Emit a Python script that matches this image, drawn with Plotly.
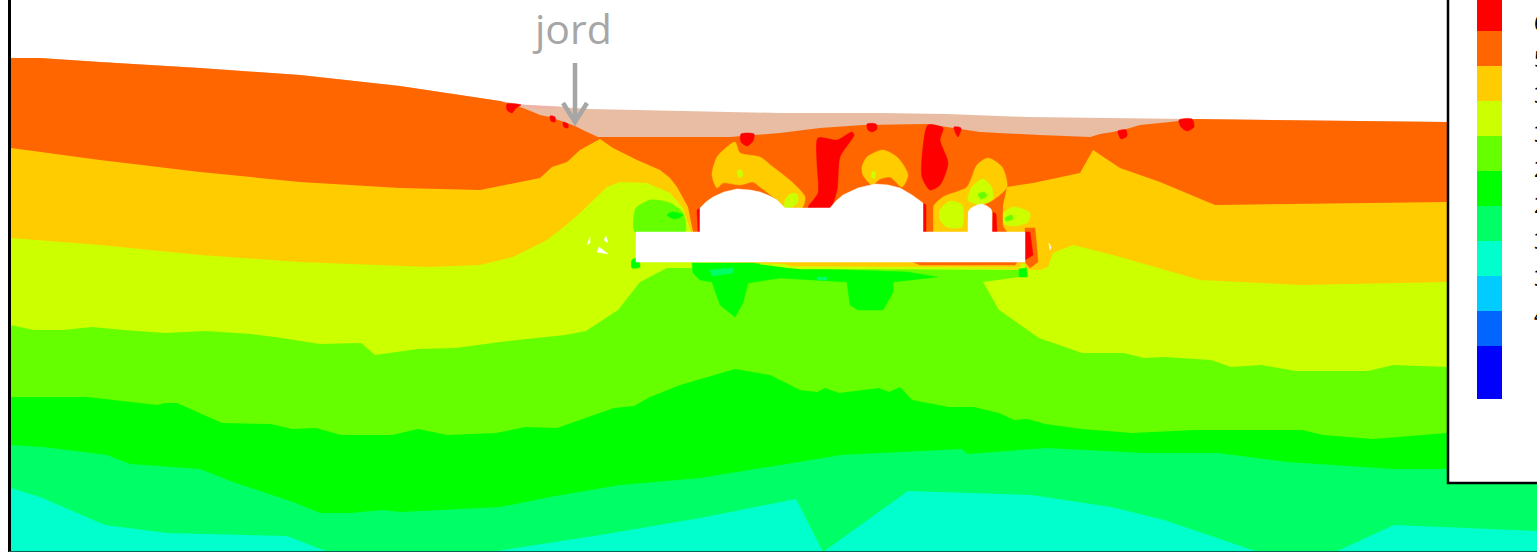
import plotly.graph_objects as go

W, H = 1537, 552
RED, ORANGE, YELLOW, LIME, GREEN, PURE, SPRING, CYAN = (
    "#ff0000", "#ff6600", "#ffcc00", "#ccff00", "#66ff00", "#00ff00", "#00ff66", "#00ffcc")
SKY, BLUE, DEEP, TAN, PINK, GREY = "#00ccff", "#0066ff", "#0000ff", "#e9bda3", "#efb3a6", "#a6a6a6"

# Band boundaries, as (x, y) pixels, left to right
surface = [(11,58),(40,58),(100,62),(200,68),(300,75),(400,86),(500,101),(525,105),(590,109),(687,111),(780,113),(880,113),(947,114),(1027,117),(1120,118),(1200,119),(1447,122),(1447,130)]
orange_top = [(11,58),(40,58),(100,62),(200,68),(300,75),(400,86),(500,101),(523,108),(533,112),(540,115),(550,117),(563,122),(575,126),(587,132),(598,137),(730,137),(780,133),(820,128),(863,125),(927,124),(980,132),(1040,135),(1090,137),(1100,134),(1113,132),(1130,128),(1140,125),(1170,122),(1195,119),(1447,122)]
yellow_top = [(11,148),(100,160),(200,172),(300,182),(400,188),(480,190),(540,178),(552,167),(567,162),(580,150),(600,139),(613,148),(637,160),(660,170),(670,178),(677,187),(688,207),(693,232),(700,262),(1030,262),(1002,225),(1003,205),(1007,187),(1033,183),(1080,173),(1093,150),(1120,168),(1160,182),(1215,205),(1300,204),(1447,202)]
lime_top = [(11,238),(100,245),(200,255),(300,262),(430,267),(480,265),(513,257),(547,240),(565,226),(580,213),(607,187),(620,182),(647,183),(670,193),(683,208),(691,232),(700,262),(1030,270),(1040,270),(1048,267),(1053,253),(1073,245),(1113,255),(1200,280),(1300,285),(1447,282)]
green_top = [(10,325),(34,330),(63,330),(92,327),(124,330),(165,333),(206,331),(251,334),(275,337),(320,344),(361,343),(375,355),(418,349),(455,348),(508,341),(565,335),(586,331),(618,310),(640,282),(667,268),(1020,270),(1027,268),(1028,276),(983,282),(999,310),(1039,338),(1082,353),(1124,353),(1144,358),(1165,357),(1211,360),(1231,367),(1261,365),(1296,371),(1339,371),(1368,371),(1393,365),(1447,367)]
pure_top = [(10,397),(88,397),(157,405),(165,403),(177,403),(222,423),(271,424),(292,429),(316,428),(341,435),(392,435),(418,429),(447,435),(496,433),(526,427),(557,428),(594,415),(614,408),(634,406),(650,397),(680,385),(735,369),(770,375),(800,390),(817,392),(825,388),(839,393),(879,388),(889,392),(900,387),(912,400),(949,407),(974,407),(999,413),(1014,420),(1028,419),(1045,424),(1082,429),(1132,433),(1194,430),(1302,430),(1323,435),(1373,439),(1447,433),(1537,433)]
spring_top = [(11,445),(43,447),(107,455),(130,464),(200,469),(233,482),(293,502),(320,513),(350,513),(383,510),(400,512),(500,507),(550,497),(620,485),(700,478),(841,455),(962,449),(967,454),(1047,448),(1143,453),(1218,453),(1287,462),(1394,469),(1537,469)]
cyan_top = [(11,488),(40,497),(105,525),(167,533),(287,536),(328,552),(490,552),(600,535),(700,518),(796,499),(823,552),(908,491),(1031,495),(1111,507),(1164,520),(1258,552),(1335,552),(1394,525),(1537,531)]
band_colors = [TAN, ORANGE, YELLOW, LIME, GREEN, PURE, SPRING, CYAN]
band_tops = [surface, orange_top, yellow_top, lime_top, green_top, pure_top, spring_top, cyan_top]

# Local patches round the building: rounded blobs
blobs = [
    (GREEN, [(635,210),(637,207),(650,200),(670,203),(683,213),(685,232),(635,232)]),
    (PURE, [(667,215),(672,212),(683,215),(675,219)]),
    (PURE, [(632,260),(637,258),(640,267),(632,268)]),
    (YELLOW, [(735,142),(740,153),(760,157),(773,167),(793,183),(805,197),(802,208),(785,208),(777,200),(760,187),(753,182),(740,185),(723,183),(717,188),(712,175),(717,157),(727,147)]),
    (LIME, [(737,171),(741,170),(743,175),(740,178)]),
    (LIME, [(785,200),(790,194),(797,194),(798,202),(790,208),(785,208)]),
    (YELLOW, [(862,167),(867,157),(883,150),(898,158),(908,175),(902,187),(890,177),(880,179),(872,185),(863,175)]),
    (LIME, [(872,172),(875,172),(875,178),(872,178)]),
    (YELLOW, [(933,207),(943,197),(967,187),(977,165),(988,158),(1002,167),(1007,187),(993,200),(983,205),(968,212),(968,232),(933,232)]),
    (LIME, [(940,210),(950,201),(962,205),(962,227),(947,227),(940,220)]),
    (LIME, [(968,200),(972,187),(983,179),(992,188),(992,200),(977,204)]),
    (GREEN, [(978,194),(984,192),(987,196),(981,199)]),
    (LIME, [(1000,217),(1013,207),(1030,213),(1028,222),(1013,226),(1002,223)]),
    (GREEN, [(1005,218),(1012,215),(1013,219),(1006,221)]),
    (RED, [(818,138),(837,140),(852,132),(854,135),(840,157),(837,190),(830,208),(808,208),(818,193),(817,163)]),
    (RED, [(928,125),(943,128),(940,140),(948,163),(940,185),(930,190),(922,177),(923,147)]),
    (RED, [(867,124),(876,124),(877,129),(872,132),(868,130)]),
    (RED, [(954,127),(961,128),(958,137),(956,134)]),
    (RED, [(741,134),(754,134),(753,141),(747,146),(741,142)]),
    (RED, [(507,104),(521,105),(516,108),(512,113),(507,110)]),
    (RED, [(550,116),(555,117),(555,122),(551,121)]),
    (RED, [(563,122),(568,124),(568,128),(564,127)]),
    (RED, [(1179,120),(1192,119),(1194,127),(1187,131),(1181,127)]),
    (RED, [(1118,131),(1126,130),(1127,136),(1121,139)]),
]
# Sharp-edged patches, drawn after the blobs
patches = [
    (ORANGE, [(1025,228),(1035,228),(1037,250),(1038,262),(1030,268),(1025,262)]),
    (ORANGE, [(933,203),(923,203),(923,232),(933,232)]),
    (ORANGE, [(990,212),(1002,198),(1003,232),(992,232)]),
    (PURE, [(692,263),(753,263),(787,268),(853,270),(907,272),(937,277),(893,282),(893,292),(883,310),(858,310),(850,305),(847,282),(807,280),(780,278),(748,283),(743,303),(735,317),(720,305),(712,282),(700,280),(693,273)]),
    (SPRING, [(710,270),(733,268),(733,273),(712,276)]),
    (SPRING, [(817,277),(827,277),(827,280),(817,280)]),
    (PURE, [(1019,269),(1026,267),(1027,277),(1019,277)]),
    (LIME, [(760,264),(1025,264),(1025,268),(800,269)]),
    (YELLOW, [(780,262),(1022,262),(1020,267),(790,266)]),
    (ORANGE, [(913,262),(1017,262),(1015,265),(920,265)]),
    (RED, [(923,203),(926,205),(926,232),(923,232)]),
    (RED, [(993,212),(996,214),(997,232),(992,232)]),
    (RED, [(1025,232),(1030,232),(1033,255),(1025,260)]),
    (RED, [(697,210),(700,208),(700,232),(698,232)]),
    (PINK, [(523,105),(563,107),(553,109),(533,108)]),
    ("#ffffff", [(636,232),(700,232),(700,208),(706,202),(713,197),(724,192),(737,189),(750,190),(760,192),(770,196),(777,200),(785,208),(830,208),(836,201),(843,195),(858,188),(875,184),(888,185),(900,188),(912,195),(923,203),(923,232),(968,232),(968,212),(971,208),(977,205),(982,204),(987,206),(991,209),(992,212),(992,232),(1025,232),(1025,262),(636,262)]),
    ("#ffffff", [(587,245),(590,237),(590,243)]),
    ("#ffffff", [(604,240),(606,236),(608,243)]),
    ("#ffffff", [(597,252),(599,247),(608,254)]),
    ("#ffffff", [(1049,243),(1051,247),(1050,250)]),
]

# Legend colour bar
legend_edges = [0, 31, 66, 101, 136, 171, 206, 241, 276, 311, 346, 399]
legend_colors = [RED, ORANGE, YELLOW, LIME, GREEN, PURE, SPRING, CYAN, SKY, BLUE, DEEP]
legend_labels = ["6", "5", "3", "3", "2", "2", "3", "3", "4"]
legend_label_y = [23, 59, 95, 134, 169, 205, 241, 278, 315]

# Arrow below the "jord" label
arrow_shaft = [(575,63),(575,122)]
arrow_head = [(563,103),(575,122),(587,103)]

fig = go.Figure()

def poly(pts, color, line=None, width=0, shape="linear"):
    xs = [p[0] for p in pts]
    ys = [p[1] for p in pts]
    fig.add_trace(go.Scatter(x=xs + xs[:1], y=ys + ys[:1], mode="lines", fill="toself", fillcolor=color,
                             line=dict(color=line or color, width=width, shape=shape, **({"smoothing": 0.7} if shape == "spline" else {})),
                             hoverinfo="skip", showlegend=False))

for top, color in zip(band_tops, band_colors):
    poly(top + [(top[-1][0], H), (top[0][0], H)], color)
for color, pts in blobs:
    poly(pts, color, width=0.5, shape="spline")
for color, pts in patches:
    poly(pts, color, width=0.5)

# Legend box
poly([(1448,-5),(W+5,-5),(W+5,483),(1448,483)], "#ffffff", line="#000000", width=2.5)
for i, color in enumerate(legend_colors):
    t, b = legend_edges[i], legend_edges[i + 1]
    poly([(1477,t),(1502,t),(1502,b),(1477,b)], color)

for seg in (arrow_shaft, arrow_head):
    fig.add_trace(go.Scatter(x=[p[0] for p in seg], y=[p[1] for p in seg], mode="lines",
                             line=dict(color=GREY, width=4.5), hoverinfo="skip", showlegend=False))

annotations = [dict(x=572, y=28, text="jord", showarrow=False, xanchor="center", yanchor="middle",
                    font=dict(family="Open Sans", size=41, color=GREY))]
for lab, y in zip(legend_labels, legend_label_y):
    annotations.append(dict(x=1532, y=y, text=lab, showarrow=False, xanchor="left", yanchor="middle",
                            font=dict(family="Open Sans", size=21, color="#000000")))

fig.update_layout(
    width=W, height=H, margin=dict(l=0, r=0, t=0, b=0), autosize=False,
    paper_bgcolor="#ffffff", plot_bgcolor="#ffffff", annotations=annotations,
    xaxis=dict(range=[0, W], visible=False, fixedrange=True),
    yaxis=dict(range=[H, 0], visible=False, fixedrange=True),
    shapes=[
        dict(type="line", xref="x", yref="y", x0=9.5, x1=9.5, y0=0, y1=H, line=dict(color="#000000", width=3)),
        dict(type="line", xref="x", yref="y", x0=9, x1=W, y0=551.5, y1=551.5, line=dict(color="#0d5f50", width=1)),
    ],
)
fig.write_html("out.html", config=dict(displayModeBar=False),
               post_script="document.body.style.margin='0';document.body.style.overflow='hidden';")
